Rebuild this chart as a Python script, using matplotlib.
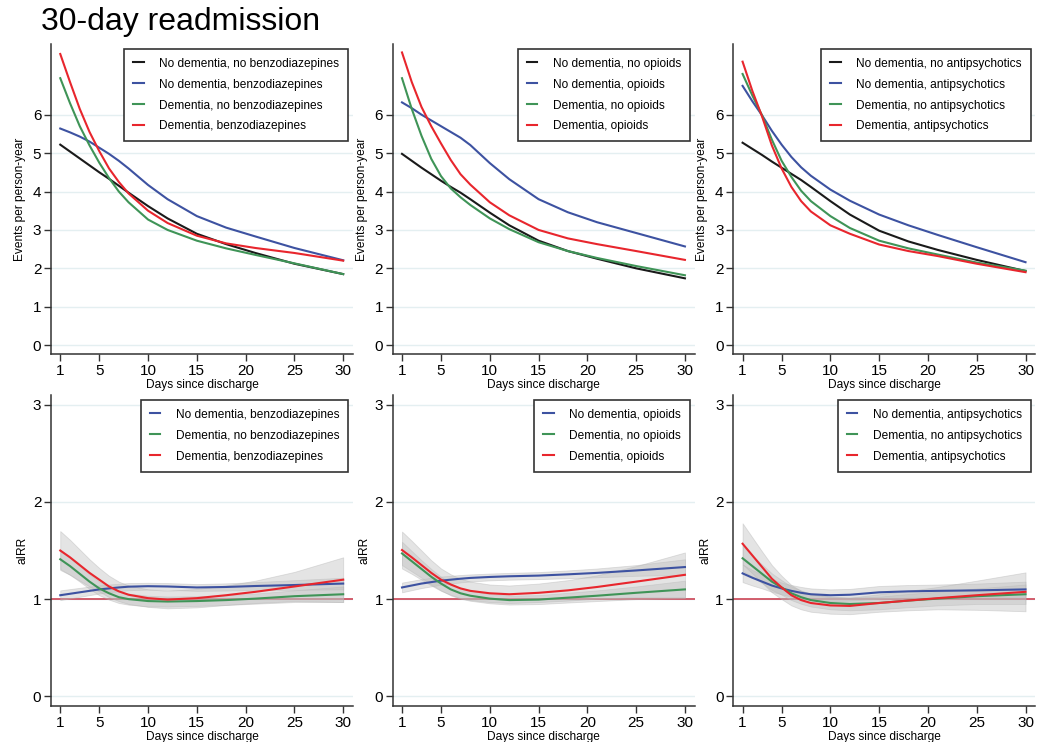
import numpy as np
import matplotlib.pyplot as plt

plt.rcParams['font.family'] = ['Liberation Sans', 'DejaVu Sans']

days = [1, 2, 3, 4, 5, 6, 7, 8, 10, 12, 15, 18, 21, 25, 30]

drugs = ["benzodiazepines", "opioids", "antipsychotics"]

# top row: events per person-year (black, blue, green, red)
rate_benzo = [
    [5.22, 5.04, 4.86, 4.68, 4.50, 4.33, 4.15, 3.97, 3.62, 3.30, 2.90, 2.63, 2.40, 2.12, 1.85],
    [5.64, 5.54, 5.43, 5.30, 5.14, 4.98, 4.80, 4.60, 4.17, 3.80, 3.36, 3.06, 2.83, 2.53, 2.21],
    [6.95, 6.30, 5.70, 5.20, 4.75, 4.35, 4.00, 3.72, 3.27, 3.00, 2.72, 2.52, 2.35, 2.13, 1.85],
    [7.58, 6.85, 6.15, 5.55, 5.05, 4.60, 4.25, 3.95, 3.50, 3.18, 2.85, 2.65, 2.53, 2.40, 2.20],
]
rate_opioid = [
    [4.98, 4.80, 4.62, 4.45, 4.28, 4.12, 3.97, 3.80, 3.45, 3.12, 2.72, 2.45, 2.25, 2.00, 1.74],
    [6.32, 6.17, 6.00, 5.85, 5.70, 5.55, 5.40, 5.21, 4.74, 4.32, 3.80, 3.46, 3.20, 2.92, 2.57],
    [6.95, 6.15, 5.45, 4.85, 4.40, 4.08, 3.85, 3.65, 3.30, 3.02, 2.68, 2.45, 2.27, 2.06, 1.82],
    [7.62, 6.85, 6.20, 5.70, 5.25, 4.82, 4.45, 4.18, 3.72, 3.38, 3.00, 2.78, 2.63, 2.45, 2.22],
]
rate_antipsy = [
    [5.27, 5.11, 4.95, 4.78, 4.62, 4.46, 4.30, 4.12, 3.75, 3.40, 2.98, 2.70, 2.48, 2.22, 1.93],
    [6.75, 6.35, 5.98, 5.58, 5.22, 4.90, 4.63, 4.41, 4.05, 3.76, 3.40, 3.12, 2.87, 2.55, 2.16],
    [7.06, 6.50, 5.98, 5.35, 4.80, 4.38, 4.02, 3.75, 3.36, 3.05, 2.72, 2.52, 2.36, 2.15, 1.94],
    [7.38, 6.62, 5.95, 5.20, 4.60, 4.12, 3.75, 3.48, 3.12, 2.90, 2.62, 2.45, 2.32, 2.12, 1.90],
]

# bottom row: aIRR (blue, green, red) and half widths of the grey bands
irr_benzo = [
    [1.04, 1.055, 1.07, 1.085, 1.10, 1.11, 1.12, 1.128, 1.133, 1.13, 1.12, 1.125, 1.135, 1.145, 1.16],
    [1.41, 1.34, 1.26, 1.18, 1.11, 1.06, 1.02, 1.00, 0.98, 0.975, 0.98, 0.99, 1.005, 1.03, 1.05],
    [1.50, 1.43, 1.35, 1.27, 1.20, 1.13, 1.08, 1.045, 1.01, 0.995, 1.01, 1.04, 1.075, 1.13, 1.20],
]
ci_benzo = [
    [0.05, 0.048, 0.046, 0.044, 0.042, 0.04, 0.038, 0.037, 0.035, 0.035, 0.035, 0.037, 0.04, 0.05, 0.06],
    [0.10, 0.09, 0.08, 0.075, 0.07, 0.065, 0.06, 0.057, 0.055, 0.052, 0.05, 0.05, 0.052, 0.06, 0.08],
    [0.20, 0.18, 0.16, 0.14, 0.12, 0.11, 0.10, 0.095, 0.09, 0.09, 0.095, 0.10, 0.115, 0.15, 0.23],
]
irr_opioid = [
    [1.12, 1.14, 1.16, 1.175, 1.19, 1.20, 1.21, 1.218, 1.228, 1.235, 1.242, 1.255, 1.27, 1.295, 1.33],
    [1.47, 1.39, 1.31, 1.23, 1.16, 1.10, 1.06, 1.035, 1.005, 0.99, 0.995, 1.015, 1.035, 1.065, 1.10],
    [1.505, 1.43, 1.35, 1.27, 1.20, 1.15, 1.11, 1.085, 1.06, 1.05, 1.065, 1.09, 1.125, 1.18, 1.25],
]
ci_opioid = [
    [0.05, 0.048, 0.046, 0.044, 0.042, 0.04, 0.038, 0.036, 0.035, 0.035, 0.036, 0.04, 0.045, 0.055, 0.08],
    [0.12, 0.105, 0.09, 0.08, 0.07, 0.062, 0.056, 0.052, 0.048, 0.046, 0.046, 0.05, 0.055, 0.065, 0.09],
    [0.19, 0.17, 0.15, 0.13, 0.115, 0.105, 0.10, 0.095, 0.09, 0.09, 0.095, 0.105, 0.12, 0.16, 0.23],
]
irr_antipsy = [
    [1.265, 1.22, 1.18, 1.14, 1.11, 1.085, 1.065, 1.05, 1.04, 1.045, 1.07, 1.08, 1.085, 1.09, 1.10],
    [1.42, 1.34, 1.26, 1.18, 1.12, 1.06, 1.02, 0.99, 0.96, 0.95, 0.96, 0.985, 1.005, 1.03, 1.05],
    [1.57, 1.45, 1.33, 1.21, 1.12, 1.04, 0.99, 0.96, 0.935, 0.93, 0.96, 0.985, 1.01, 1.04, 1.075],
]
ci_antipsy = [
    [0.09, 0.08, 0.07, 0.065, 0.06, 0.06, 0.06, 0.06, 0.06, 0.06, 0.065, 0.065, 0.065, 0.07, 0.08],
    [0.13, 0.11, 0.095, 0.085, 0.075, 0.07, 0.068, 0.066, 0.065, 0.065, 0.065, 0.068, 0.07, 0.08, 0.10],
    [0.21, 0.185, 0.16, 0.14, 0.12, 0.105, 0.095, 0.09, 0.085, 0.085, 0.09, 0.10, 0.115, 0.15, 0.20],
]

rates = [rate_benzo, rate_opioid, rate_antipsy]
irrs = [irr_benzo, irr_opioid, irr_antipsy]
cis = [ci_benzo, ci_opioid, ci_antipsy]

colors = ['#1a1a1a', '#3d52a1', '#3f9457', '#e8262d']
grid_col = '#e4eff1'
spine_col = '#333333'


def labels_for(drug):
    return ["No dementia, no " + drug, "No dementia, " + drug,
            "Dementia, no " + drug, "Dementia, " + drug]


def style_axes(ax):
    for s in ['top', 'right']:
        ax.spines[s].set_visible(False)
    for s in ['left', 'bottom']:
        ax.spines[s].set_color(spine_col)
        ax.spines[s].set_linewidth(1.1)
    ax.tick_params(direction='out', length=5, width=1.0, color=spine_col,
                   labelsize=11, pad=2)
    ax.set_xlim(0.05, 31.0)
    ax.set_xticks([1, 5, 10, 15, 20, 25, 30])
    ax.yaxis.grid(True, color=grid_col, lw=1.0)
    ax.set_axisbelow(True)
    ax.set_xlabel("Days since discharge", fontsize=8.6, labelpad=1)


def add_legend(ax, handles, labels):
    leg = ax.legend(handles, labels, loc='upper right', bbox_to_anchor=(0.985, 0.985),
                    fontsize=8.6, handlelength=0.9, handletextpad=1.3,
                    labelspacing=0.75, borderpad=0.75, fancybox=False,
                    framealpha=1, borderaxespad=0)
    leg.get_frame().set_edgecolor('#333333')
    leg.get_frame().set_linewidth(1.2)


fig = plt.figure(figsize=(10.47, 7.42), dpi=100)
lefts = [0.0487, 0.3751, 0.7004]
w = 0.2884

for i, drug in enumerate(drugs):
    labs = labels_for(drug)

    # top row: rates
    ax = fig.add_axes([lefts[i], 0.5229, w, 0.4178])
    style_axes(ax)
    hs = []
    for k in range(4):
        h, = ax.plot(days, rates[i][k], color=colors[k], lw=1.5)
        hs.append(h)
    ax.set_ylim(-0.23, 7.84)
    ax.set_yticks(range(7))
    ax.set_ylabel("Events per person-year", fontsize=8.6)
    ax.yaxis.set_label_coords(-0.083, 0.5)
    add_legend(ax, hs, labs)

    # bottom row: aIRR with grey bands
    ax = fig.add_axes([lefts[i], 0.0485, w, 0.4191])
    style_axes(ax)
    ax.axhline(1, color='#cc4455', lw=1.2, zorder=2)
    hs = []
    for k in range(3):
        mid = np.array(irrs[i][k])
        hw = np.array(cis[i][k])
        ax.fill_between(days, mid - hw, mid + hw, color='#bdbdbd', alpha=0.4,
                        edgecolor='#b0b0b0', lw=0.6, zorder=3)
    for k in range(3):
        h, = ax.plot(days, irrs[i][k], color=colors[k + 1], lw=1.5, zorder=4)
        hs.append(h)
    ax.set_ylim(-0.1, 3.1)
    ax.set_yticks(range(4))
    ax.set_ylabel("aIRR", fontsize=8.6)
    ax.yaxis.set_label_coords(-0.073, 0.5)
    add_legend(ax, hs, labs[1:])

fig.text(0.039, 0.970, "30-day readmission", fontsize=23, va='center', ha='left')

fig.savefig("out.png", dpi=100)
